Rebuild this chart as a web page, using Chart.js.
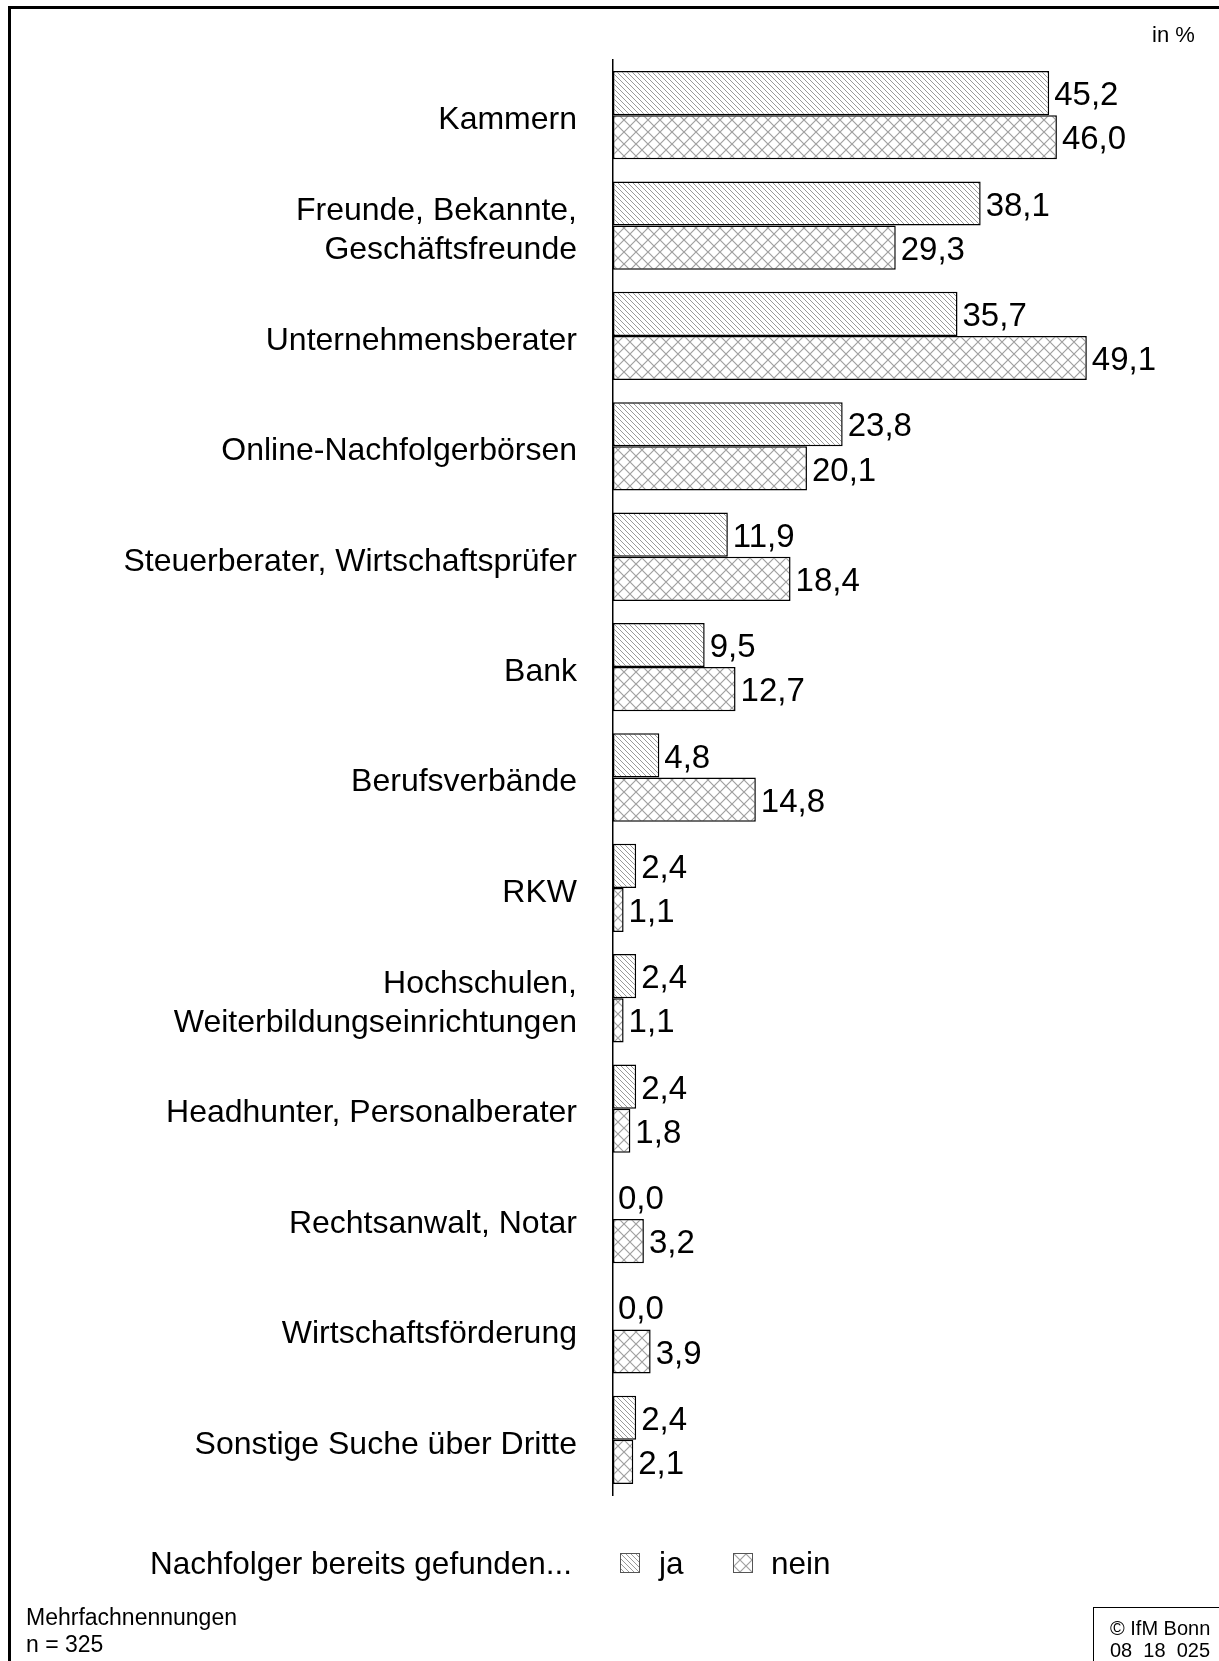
<!DOCTYPE html>
<html lang="de">
<head>
<meta charset="utf-8">
<title>Nachfolgersuche über Dritte</title>
<script src="https://cdn.jsdelivr.net/npm/chart.js@4"></script>
<style>
  body { margin: 0; background: #fff; }
  #page { position: relative; width: 1219px; height: 1661px; overflow: hidden; font-family: "Liberation Sans", Arial, sans-serif; color: #000; }
  #chart { position: absolute; left: 0; top: 0; }
  .txt { position: absolute; white-space: nowrap; }
  #frame { position: absolute; left: 8px; top: 6px; width: 1400px; height: 1800px; border-left: 3px solid #000; border-top: 3px solid #000; }
  #unit { left: 1152px; top: 22px; font-size: 22px; line-height: 26px; }
  #legendTitle { right: 647px; top: 1543px; font-size: 31.5px; line-height: 40px; }
  .legBox { position: absolute; top: 1553px; border: 1px solid #555; }
  .legText { top: 1543px; font-size: 31.5px; line-height: 40px; }
  #note { left: 26px; top: 1604px; font-size: 23px; line-height: 27px; }
  #ifm { position: absolute; left: 1093px; top: 1607px; width: 200px; height: 100px; border: 1.5px solid #000; padding: 9px 0 0 16px; font-size: 20px; line-height: 22px; box-sizing: border-box; }
</style>
</head>
<body>
<div id="page">
  <canvas id="chart" width="1219" height="1661"></canvas>
  <div id="frame"></div>
  <div class="txt" id="unit">in %</div>
  <div class="txt" id="legendTitle">Nachfolger bereits gefunden...</div>
  <canvas class="legBox" id="legJa" width="18" height="18" style="left:620px"></canvas>
  <div class="txt legText" style="left:659px">ja</div>
  <canvas class="legBox" id="legNein" width="18" height="18" style="left:733px"></canvas>
  <div class="txt legText" style="left:771px">nein</div>
  <div class="txt" id="note">Mehrfachnennungen<br>n = 325</div>
  <div id="ifm">© IfM Bonn<br>08&nbsp;&nbsp;18&nbsp;&nbsp;025</div>
</div>
<script>
const categories = [
  "Kammern",
  ["Freunde, Bekannte,", "Geschäftsfreunde"],
  "Unternehmensberater",
  "Online-Nachfolgerbörsen",
  "Steuerberater, Wirtschaftsprüfer",
  "Bank",
  "Berufsverbände",
  "RKW",
  ["Hochschulen,", "Weiterbildungseinrichtungen"],
  "Headhunter, Personalberater",
  "Rechtsanwalt, Notar",
  "Wirtschaftsförderung",
  "Sonstige Suche über Dritte"
];
const jaValues   = [45.2, 38.1, 35.7, 23.8, 11.9, 9.5, 4.8, 2.4, 2.4, 2.4, 0.0, 0.0, 2.4];
const neinValues = [46.0, 29.3, 49.1, 20.1, 18.4, 12.7, 14.8, 1.1, 1.1, 1.8, 3.2, 3.9, 2.1];
const seriesNames = ["ja", "nein"];

const FONT = '"Liberation Sans", Arial, sans-serif';

// hatch patterns like in the print version
function diagPattern() {
  const s = 5;
  const c = document.createElement("canvas");
  c.width = s; c.height = s;
  const g = c.getContext("2d");
  g.fillStyle = "#fff";
  g.fillRect(0, 0, s, s);
  g.strokeStyle = "#999";
  g.lineWidth = 1;
  g.beginPath();
  g.moveTo(-1, -1); g.lineTo(s + 1, s + 1);
  g.moveTo(s - 1, -1); g.lineTo(s + 1, 1);
  g.moveTo(-1, s - 1); g.lineTo(1, s + 1);
  g.stroke();
  return g.createPattern(c, "repeat");
}

function crossPattern() {
  const s = 12;
  const c = document.createElement("canvas");
  c.width = s; c.height = s;
  const g = c.getContext("2d");
  g.fillStyle = "#fff";
  g.fillRect(0, 0, s, s);
  g.strokeStyle = "#a0a0a0";
  g.lineWidth = 1.2;
  g.beginPath();
  g.moveTo(-1, -1); g.lineTo(s + 1, s + 1);
  g.moveTo(-1, s + 1); g.lineTo(s + 1, -1);
  g.stroke();
  return g.createPattern(c, "repeat");
}

const jaFill = diagPattern();
const neinFill = crossPattern();

// legend boxes
[["legJa", jaFill], ["legNein", neinFill]].forEach(([id, fill]) => {
  const cv = document.getElementById(id);
  const g = cv.getContext("2d");
  g.fillStyle = fill;
  g.fillRect(0, 0, cv.width, cv.height);
});

// value labels next to the bars, german decimal comma
const valueLabels = {
  id: "valueLabels",
  afterDatasetsDraw(chart) {
    const ctx = chart.ctx;
    ctx.save();
    ctx.font = "33px " + FONT;
    ctx.fillStyle = "#000";
    ctx.textAlign = "left";
    ctx.textBaseline = "middle";
    chart.data.datasets.forEach((ds, i) => {
      chart.getDatasetMeta(i).data.forEach((bar, j) => {
        const txt = ds.data[j].toFixed(1).replace(".", ",");
        ctx.fillText(txt, bar.x + 5, bar.y + 3);
      });
    });
    ctx.restore();
  }
};

new Chart(document.getElementById("chart"), {
  type: "bar",
  data: {
    labels: categories,
    datasets: [
      { label: seriesNames[0], data: jaValues, backgroundColor: jaFill },
      { label: seriesNames[1], data: neinValues, backgroundColor: neinFill }
    ]
  },
  options: {
    indexAxis: "y",
    responsive: false,
    animation: false,
    devicePixelRatio: 1,
    layout: { padding: { left: 0, right: 27, top: 60, bottom: 166 } },
    datasets: {
      bar: {
        borderColor: "#000",
        borderWidth: 1.5,
        borderSkipped: false,
        barPercentage: 1.0,
        categoryPercentage: 0.8
      }
    },
    scales: {
      x: {
        display: false,
        min: 0,
        max: 60
      },
      y: {
        grid: { display: false, drawTicks: false },
        border: { display: true, color: "#000", width: 1.5 },
        ticks: {
          color: "#000",
          padding: 36,
          labelOffset: 5,
          font: { family: FONT, size: 32, lineHeight: 1.22 }
        },
        afterFit(scale) { scale.width = 613; }
      }
    },
    plugins: {
      legend: { display: false },
      tooltip: { enabled: false }
    }
  },
  plugins: [valueLabels]
});
</script>
</body>
</html>
